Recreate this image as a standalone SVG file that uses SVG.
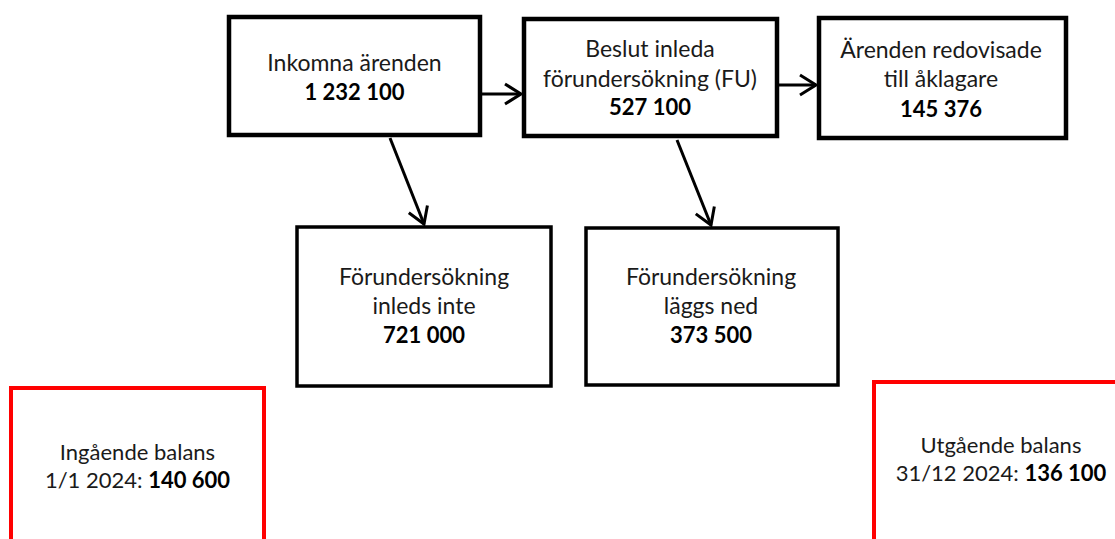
<svg xmlns="http://www.w3.org/2000/svg" width="1115" height="539" viewBox="0 0 1115 539">
  <style>
    .box { fill: #ffffff; stroke: #000000; stroke-width: 4.5; }
    .box2 { fill: #ffffff; stroke: #000000; stroke-width: 3.5; }
    .red { fill: #ffffff; stroke: #ff0000; stroke-width: 4; }
    text { font-family: Lato, "Liberation Sans", Arial, sans-serif; font-size: 23px; fill: #1a1a1a; text-anchor: middle; }
    .b { font-weight: bold; fill: #000000; font-size: 22px; }
    .s { font-size: 22px; }
    .conn { stroke: #000000; stroke-width: 3; fill: none; marker-end: url(#arr); }
  </style>
  <defs>
    <marker id="arr" viewBox="-20 -12 24 24" markerWidth="24" markerHeight="24" refX="0" refY="0" markerUnits="userSpaceOnUse" orient="auto">
      <path d="M-16,-10 L0,0 L-16,10" fill="none" stroke="#000000" stroke-width="3" stroke-linejoin="miter"/>
    </marker>
  </defs>
  <rect width="1115" height="539" fill="#ffffff"/>

  <g id="connectors">
    <line class="conn" x1="482" y1="94" x2="521" y2="94"/>
    <line class="conn" x1="779" y1="85" x2="816" y2="85"/>
    <line class="conn" x1="390" y1="138" x2="424" y2="224"/>
    <line class="conn" x1="677" y1="140" x2="711" y2="225"/>
  </g>

  <g id="inkomna">
    <rect class="box" x="229" y="17" width="251" height="118"/>
    <text x="354.5" y="71">Inkomna ärenden</text>
    <text class="b" x="354.5" y="100">1 232 100</text>
  </g>

  <g id="beslut">
    <rect class="box" x="524" y="19" width="253" height="117"/>
    <text x="650" y="57">Beslut inleda</text>
    <text x="650" y="87">förundersökning (FU)</text>
    <text class="b" x="650" y="115">527 100</text>
  </g>

  <g id="redovisade">
    <rect class="box" x="819" y="18" width="247" height="120"/>
    <text x="941" y="58">Ärenden redovisade</text>
    <text x="941" y="87">till åklagare</text>
    <text class="b" x="941" y="117">145 376</text>
  </g>

  <g id="inleds-inte">
    <rect class="box2" x="297" y="227" width="254" height="159"/>
    <text x="424" y="285">Förundersökning</text>
    <text x="424" y="314">inleds inte</text>
    <text class="b" x="424" y="343">721 000</text>
  </g>

  <g id="laggs-ned">
    <rect class="box2" x="586" y="228" width="252" height="157"/>
    <text x="711" y="285">Förundersökning</text>
    <text x="711" y="314">läggs ned</text>
    <text class="b" x="711" y="343">373 500</text>
  </g>

  <g id="ingaende">
    <rect class="red" x="11" y="388" width="253" height="170"/>
    <text class="s" x="137.5" y="460">Ingående balans</text>
    <text class="s" x="137.5" y="488">1/1 2024: <tspan class="b">140 600</tspan></text>
  </g>

  <g id="utgaende">
    <rect class="red" x="874" y="382" width="260" height="176"/>
    <text class="s" x="1001" y="453">Utgående balans</text>
    <text class="s" x="1001" y="481">31/12 2024: <tspan class="b">136 100</tspan></text>
  </g>
</svg>
